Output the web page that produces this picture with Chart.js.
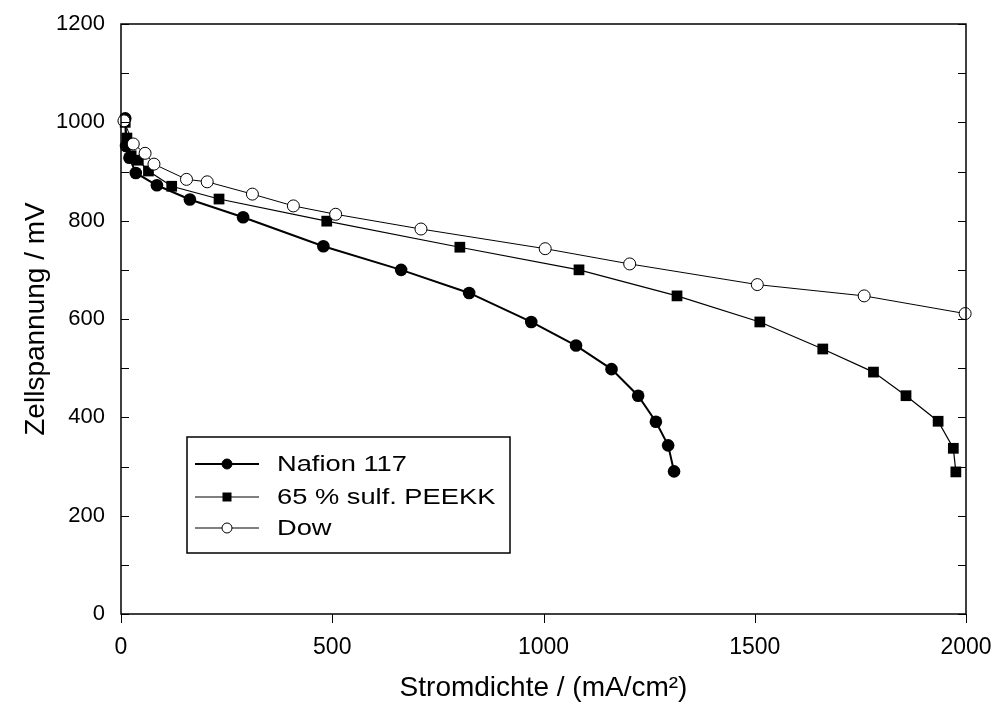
<!DOCTYPE html>
<html>
<head>
<meta charset="utf-8">
<script src="https://cdn.jsdelivr.net/npm/chart.js@4"></script>
<style>
  body { margin: 0; background: #fff; }
</style>
</head>
<body>
<canvas id="chart" width="994" height="706"></canvas>
<script>
// Stromdichte (mA/cm2) / Zellspannung (mV) readings
var NAFION_X = [10, 12, 20, 35, 85, 163, 289, 479, 663, 824, 971, 1077, 1161, 1224, 1266, 1295, 1309];
var NAFION_Y = [1008, 952, 928, 897, 872, 843, 807, 748, 700, 653, 594, 546, 498, 444, 391, 343, 290];

var PEEKK_X = [10, 14, 24, 41, 65, 120, 232, 487, 802, 1084, 1316, 1512, 1661, 1781, 1858, 1934, 1970, 1976];
var PEEKK_Y = [1000, 968, 932, 923, 901, 870, 844, 799, 746, 700, 647, 594, 539, 492, 444, 392, 337, 289];

var DOW_X = [7, 29, 57, 78, 155, 204, 311, 408, 508, 710, 1004, 1204, 1506, 1759, 1998];
var DOW_Y = [1003, 956, 937, 915, 884, 879, 854, 830, 813, 783, 743, 712, 670, 647, 611];

var LEGEND_LABELS = ['Nafion 117', '65 % sulf. PEEKK', 'Dow'];
var X_TITLE = 'Stromdichte / (mA/cm\u00B2)';
var Y_TITLE = 'Zellspannung / mV';

var FONT = "'Liberation Sans', Arial, sans-serif";

function pts(xs, ys) {
  var out = [];
  for (var i = 0; i < xs.length; i++) out.push({x: xs[i], y: ys[i]});
  return out;
}

// frame, inward y ticks, outward x ticks, and the boxed legend
var framePlugin = {
  id: 'frame',
  afterDraw: function(chart) {
    var ctx = chart.ctx, a = chart.chartArea;
    var xs = chart.scales.x, ys = chart.scales.y;
    ctx.save();
    ctx.strokeStyle = '#000';
    ctx.lineWidth = 1.5;
    ctx.strokeRect(a.left, a.top, a.right - a.left, a.bottom - a.top);
    ctx.lineWidth = 1;
    ctx.beginPath();
    ys.ticks.forEach(function(t) {
      var py = Math.round(ys.getPixelForValue(t.value)) + 0.5;
      ctx.moveTo(a.left, py); ctx.lineTo(a.left + 8, py);
      ctx.moveTo(a.right, py); ctx.lineTo(a.right - 8, py);
    });
    xs.ticks.forEach(function(t) {
      var px = Math.round(xs.getPixelForValue(t.value)) + 0.5;
      ctx.moveTo(px, a.bottom); ctx.lineTo(px, a.bottom + 9);
    });
    ctx.stroke();

    // legend
    var bx = 187, by = 437, bw = 323, bh = 116;
    ctx.lineWidth = 1.5;
    ctx.strokeRect(bx, by, bw, bh);
    var rows = [464, 497, 528];
    var widths = [2, 1.2, 1];
    chart.data.datasets.forEach(function(ds, i) {
      var ry = rows[i];
      ctx.lineWidth = widths[i];
      ctx.strokeStyle = '#000';
      ctx.beginPath();
      ctx.moveTo(195, ry); ctx.lineTo(259, ry);
      ctx.stroke();
      if (ds.pointStyle === 'rect') {
        ctx.fillStyle = '#000';
        ctx.fillRect(227 - 4.5, ry - 4.5, 9, 9);
      } else {
        ctx.beginPath();
        ctx.arc(227, ry, 5, 0, Math.PI * 2);
        ctx.fillStyle = ds.pointBackgroundColor;
        ctx.fill();
        ctx.lineWidth = 1;
        ctx.stroke();
      }
      ctx.save();
      ctx.translate(277, ry);
      ctx.scale(1.24, 1);
      ctx.fillStyle = '#000';
      ctx.font = '22px ' + FONT;
      ctx.textBaseline = 'middle';
      ctx.fillText(LEGEND_LABELS[i], 0, 1);
      ctx.restore();
    });
    ctx.restore();
  }
};

new Chart(document.getElementById('chart'), {
  type: 'scatter',
  data: {
    datasets: [
      {
        label: LEGEND_LABELS[0],
        data: pts(NAFION_X, NAFION_Y),
        showLine: true,
        borderColor: '#000',
        borderWidth: 2,
        pointStyle: 'circle',
        pointRadius: 6.3,
        pointBackgroundColor: '#000',
        pointBorderColor: '#000',
        pointBorderWidth: 0,
        clip: false,
        order: 2
      },
      {
        label: LEGEND_LABELS[1],
        data: pts(PEEKK_X, PEEKK_Y),
        showLine: true,
        borderColor: '#000',
        borderWidth: 1.2,
        pointStyle: 'rect',
        pointRadius: 7.6,
        pointBackgroundColor: '#000',
        pointBorderColor: '#000',
        pointBorderWidth: 0,
        clip: false,
        order: 1
      },
      {
        label: LEGEND_LABELS[2],
        data: pts(DOW_X, DOW_Y),
        showLine: true,
        borderColor: '#000',
        borderWidth: 1,
        pointStyle: 'circle',
        pointRadius: 6,
        pointBackgroundColor: '#fff',
        pointBorderColor: '#000',
        pointBorderWidth: 1,
        clip: false,
        order: 0
      }
    ]
  },
  options: {
    responsive: false,
    animation: false,
    layout: { padding: { top: 24, right: 28, left: 0, bottom: 0 } },
    plugins: { legend: { display: false }, tooltip: { enabled: false } },
    scales: {
      x: {
        type: 'linear',
        min: 0, max: 2000,
        grid: { display: false, drawTicks: false },
        border: { display: false },
        ticks: {
          stepSize: 500, padding: 20, color: '#000', font: { family: FONT, size: 23 },
          callback: function(v) { return String(v); }
        },
        title: { display: true, text: X_TITLE, color: '#000', font: { family: FONT, size: 28 }, padding: { top: 0, bottom: 1 } },
        afterFit: function(s) { s.height = 92; s.paddingLeft = 0; s.paddingRight = 0; }
      },
      y: {
        type: 'linear',
        min: 0, max: 1200,
        grid: { display: false, drawTicks: false },
        border: { display: false },
        ticks: {
          stepSize: 100, padding: 16, color: '#000', font: { family: FONT, size: 22 },
          callback: function(v) { return v % 200 === 0 ? String(v) : ''; }
        },
        title: { display: true, text: Y_TITLE, color: '#000', font: { family: FONT, size: 28 }, padding: { top: 19, bottom: 0 } },
        afterFit: function(s) { s.width = 121; s.paddingTop = 0; s.paddingBottom = 0; }
      }
    }
  },
  plugins: [framePlugin]
});
</script>
</body>
</html>
